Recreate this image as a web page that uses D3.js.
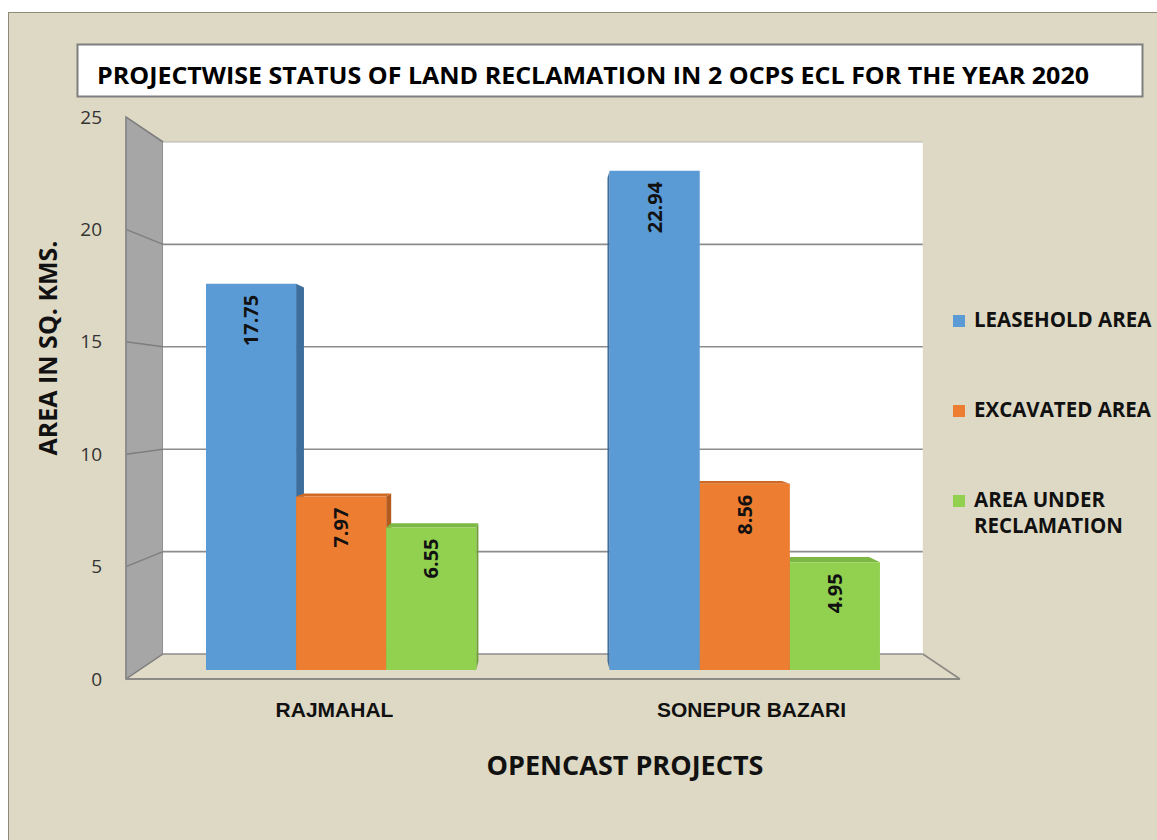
<!DOCTYPE html>
<html>
<head>
<meta charset="utf-8">
<script src="https://cdn.jsdelivr.net/npm/d3@7/dist/d3.min.js"></script>
<style>
  html, body { margin: 0; padding: 0; background: #ffffff; }
  svg { display: block; }
</style>
</head>
<body>
<svg id="chart" width="1157" height="840"></svg>
<script>
// Land reclamation status per opencast project (sq. km)
const categories = ["RAJMAHAL", "SONEPUR BAZARI"];
const seriesNames = ["LEASEHOLD AREA", "EXCAVATED AREA", "AREA UNDER RECLAMATION"];
const leaseholdArea = [17.75, 22.94];
const excavatedArea = [7.97, 8.56];
const reclamationArea = [6.55, 4.95];
const yTickValues = [0, 5, 10, 15, 20, 25];
const chartTitle = "PROJECTWISE STATUS OF LAND RECLAMATION IN 2 OCPS ECL FOR THE YEAR 2020";
const yTitle = "AREA IN SQ. KMS.";
const xTitle = "OPENCAST PROJECTS";

const seriesValues = [leaseholdArea, excavatedArea, reclamationArea];
const fills = {
  front: ["#5B9BD5", "#ED7D31", "#92D050"],
  side:  ["#3E6E9C", "#B35A1E", "#6E9E3A"],
  top:   ["#4A86BE", "#CF6A24", "#7DB844"]
};

const svg = d3.select("#chart");

// Chart area background
svg.append("rect")
  .attr("x", 8.5).attr("y", 12.5)
  .attr("width", 1160).attr("height", 840)
  .attr("fill", "#DED9C4").attr("stroke", "#8E8A7C").attr("stroke-width", 1);

// Front-plane scales; depth is projected toward a vanishing point
const x0 = d3.scaleBand().domain(categories).range([126, 960]).padding(0);
const x1 = d3.scaleBand().domain(seriesNames).range([0, x0.bandwidth()])
  .paddingInner(0).paddingOuter(0.74);
const y = d3.scaleLinear().domain([0, 25]).range([679, 117]);

const VX = 542, VY = 398;      // vanishing point
const WALL_T = 0.089;          // depth of back wall
const BAR_T1 = 0.032, BAR_T2 = 0.063; // bar front / back depth

const P = (px, py, t) => [px + (VX - px) * t, py + (VY - py) * t];
const poly = pts => "M" + pts.map(p => p[0].toFixed(2) + "," + p[1].toFixed(2)).join("L") + "Z";

const [xL, xR] = x0.range();
const y0 = y(0), yMax = y(25);

// Left side wall
svg.append("path")
  .attr("d", poly([[xL, yMax], P(xL, yMax, WALL_T), P(xL, y0, WALL_T), [xL, y0]]))
  .attr("fill", "#A6A6A6").attr("stroke", "#8A8A8A").attr("stroke-width", 1.5);

// Back wall
svg.append("path")
  .attr("d", poly([P(xL, yMax, WALL_T), P(xR, yMax, WALL_T), P(xR, y0, WALL_T), P(xL, y0, WALL_T)]))
  .attr("fill", "#ffffff");

// Floor
svg.append("path")
  .attr("d", poly([[xL, y0], [xR, y0], P(xR, y0, WALL_T), P(xL, y0, WALL_T)]))
  .attr("fill", "#E0DBC7");

// Gridlines on back wall and side wall
const grid = svg.append("g").attr("stroke", "#8C8C8C").attr("fill", "none");
yTickValues.forEach(v => {
  const yy = y(v);
  const a = P(xL, yy, WALL_T), b = P(xR, yy, WALL_T);
  grid.append("line").attr("x1", a[0]).attr("y1", a[1]).attr("x2", b[0]).attr("y2", b[1])
    .attr("stroke-width", v === 25 ? 1 : 1.6).attr("stroke", v === 25 ? "#B5B5B5" : "#8C8C8C");
  grid.append("line").attr("x1", xL).attr("y1", yy).attr("x2", a[0]).attr("y2", a[1])
    .attr("stroke-width", 1.4).attr("stroke", "#7E7E7E");
});
// Floor edges
const fb = P(xR, y0, WALL_T);
grid.append("line").attr("x1", xL).attr("y1", y0).attr("x2", xR).attr("y2", y0)
  .attr("stroke", "#8C8A84").attr("stroke-width", 2);
grid.append("line").attr("x1", xR).attr("y1", y0).attr("x2", fb[0]).attr("y2", fb[1])
  .attr("stroke", "#8C8A84").attr("stroke-width", 1.6);
grid.append("line").attr("x1", xL).attr("y1", yMax).attr("x2", xL).attr("y2", y0)
  .attr("stroke", "#8A8A8A").attr("stroke-width", 1.5);

// Bars as projected boxes
const bars = [];
categories.forEach((c, ci) => {
  seriesNames.forEach((s, si) => {
    const left = x0(c) + x1(s);
    const right = left + x1.bandwidth();
    bars.push({ c, s, si, v: seriesValues[si][ci], left, right });
  });
});
bars.sort((a, b) => Math.abs((b.left + b.right) / 2 - VX) - Math.abs((a.left + a.right) / 2 - VX));

const barG = svg.append("g");
bars.forEach(d => {
  const yt = y(d.v);
  const g = barG.append("g");
  const cx = (d.left + d.right) / 2;
  const sideX = cx < VX ? d.right : d.left;
  g.append("path")
    .attr("d", poly([P(sideX, yt, BAR_T1), P(sideX, yt, BAR_T2), P(sideX, y0, BAR_T2), P(sideX, y0, BAR_T1)]))
    .attr("fill", fills.side[d.si]);
  if (yt > VY) {
    g.append("path")
      .attr("d", poly([P(d.left, yt, BAR_T1), P(d.right, yt, BAR_T1), P(d.right, yt, BAR_T2), P(d.left, yt, BAR_T2)]))
      .attr("fill", fills.top[d.si]);
  }
  g.append("path")
    .attr("d", poly([P(d.left, yt, BAR_T1), P(d.right, yt, BAR_T1), P(d.right, y0, BAR_T1), P(d.left, y0, BAR_T1)]))
    .attr("fill", fills.front[d.si]);
});

// Value labels, rotated, near bar tops
const labelG = svg.append("g");
bars.forEach(d => {
  const cx = (d.left + d.right) / 2;
  const p = P(cx, y(d.v), BAR_T1);
  labelG.append("text")
    .attr("transform", `translate(${p[0]},${p[1] + 11}) rotate(-90)`)
    .attr("text-anchor", "end")
    .attr("dy", "0.36em")
    .attr("font-family", "'Open Sans', sans-serif")
    .attr("font-weight", 700)
    .attr("font-size", 20)
    .attr("fill", "#111111")
    .text(d3.format(".2f")(d.v));
});

// Value axis
const yAxis = svg.append("g")
  .attr("transform", "translate(104,0)")
  .call(d3.axisLeft(y).tickValues(yTickValues).tickSize(0).tickPadding(2).tickFormat(d3.format("d")));
yAxis.select(".domain").remove();
yAxis.selectAll("text")
  .attr("font-family", "'Open Sans', sans-serif")
  .attr("font-size", 19)
  .attr("fill", "#333333");

// Category axis
const xAxis = svg.append("g")
  .attr("transform", `translate(0,${y0})`)
  .call(d3.axisBottom(x0).tickSize(0).tickPadding(23));
xAxis.select(".domain").remove();
xAxis.selectAll("text")
  .attr("font-family", "'Liberation Sans', Arial, sans-serif")
  .attr("font-weight", 700)
  .attr("font-size", 21)
  .attr("fill", "#111111");

// Axis titles
svg.append("text")
  .attr("transform", "translate(57,348) rotate(-90)")
  .attr("text-anchor", "middle")
  .attr("font-family", "'Open Sans', sans-serif")
  .attr("font-weight", 700)
  .attr("font-size", 25)
  .attr("fill", "#111111")
  .text(yTitle);

svg.append("text")
  .attr("x", 625).attr("y", 775)
  .attr("text-anchor", "middle")
  .attr("font-family", "'Open Sans', sans-serif")
  .attr("font-weight", 700)
  .attr("font-size", 27)
  .attr("fill", "#111111")
  .text(xTitle);

// Title box
svg.append("rect")
  .attr("x", 77.5).attr("y", 44.5).attr("width", 1065).attr("height", 52)
  .attr("fill", "#ffffff").attr("stroke", "#7F7F7F").attr("stroke-width", 2);
svg.append("text")
  .attr("x", 97).attr("y", 84)
  .attr("font-family", "'Open Sans', sans-serif")
  .attr("font-weight", 700)
  .attr("font-size", 24)
  .attr("textLength", 992)
  .attr("lengthAdjust", "spacingAndGlyphs")
  .attr("fill", "#000000")
  .text(chartTitle);

// Legend
const legend = svg.append("g").attr("transform", "translate(953,0)");
const legendRows = [315, 405, 495];
seriesNames.forEach((s, i) => {
  const row = legend.append("g").attr("transform", `translate(0,${legendRows[i]})`);
  row.append("rect").attr("width", 12).attr("height", 12).attr("fill", fills.front[i]);
  const t = row.append("text")
    .attr("x", 21).attr("y", 12)
    .attr("font-family", "'Open Sans', sans-serif")
    .attr("font-weight", 700)
    .attr("font-size", 20.5)
    .attr("fill", "#111111");
  // greedy word wrap for long entries
  const words = s.split(" ");
  let line = [], lineNo = 0;
  let tspan = t.append("tspan").attr("x", 21).attr("y", 12);
  words.forEach(w => {
    line.push(w);
    tspan.text(line.join(" "));
    if (tspan.node().getComputedTextLength() > 200 && line.length > 1) {
      line.pop();
      tspan.text(line.join(" "));
      line = [w];
      lineNo++;
      tspan = t.append("tspan").attr("x", 21).attr("y", 12 + lineNo * 26).text(w);
    }
  });
});
</script>
</body>
</html>
